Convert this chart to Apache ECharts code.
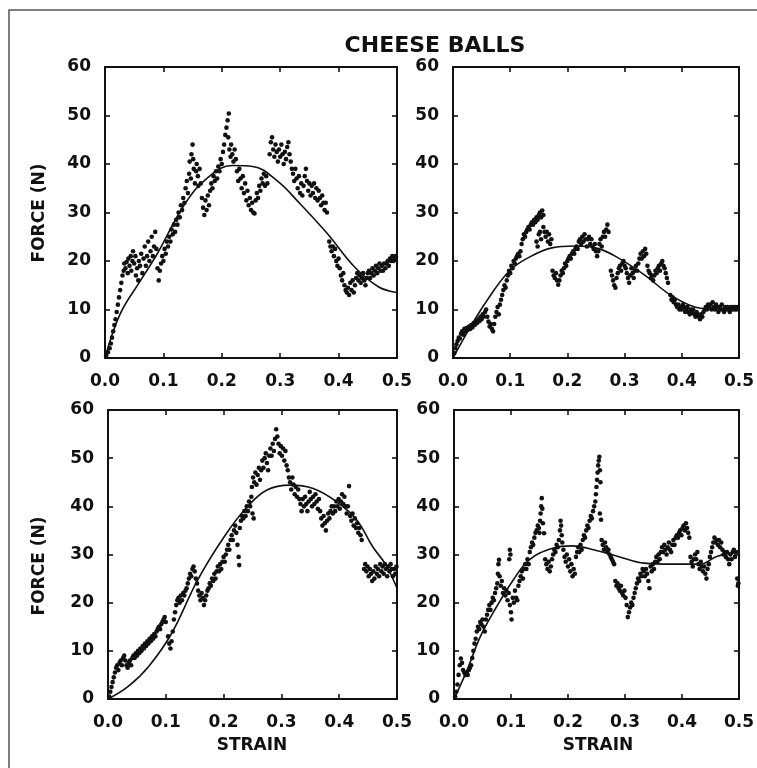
<!DOCTYPE html>
<html>
<head>
<meta charset="utf-8">
<script src="https://cdn.jsdelivr.net/npm/echarts@6/dist/echarts.min.js"></script>
<style>html,body{margin:0;padding:0;background:#fff;}#c{width:757px;height:768px;}</style>
</head>
<body>
<div id="c"></div>
<script>
// ---- data (strain, force N) ----
const titleText = 'CHEESE BALLS';
const xAxisName = 'STRAIN';
const yAxisName = 'FORCE (N)';
const strainTickLabels = ['0.0','0.1','0.2','0.3','0.4','0.5'];
const forceTickLabels = ['0','10','20','30','40','50','60'];

const tlPoints = [[0.002,0.5],[0.005,1.2],[0.008,2.0],[0.010,3.0],[0.012,4.2],[0.014,5.5],[0.016,6.8],[0.018,8.0],[0.020,9.5],[0.022,11.0],[0.024,12.5],[0.026,14.0],[0.028,15.5],[0.030,17.0],[0.032,18.0],[0.033,19.5],
[0.035,18.5],[0.037,19.8],[0.039,17.5],[0.040,20.5],[0.042,19.0],[0.044,21.0],[0.045,18.0],[0.047,20.0],[0.048,22.0],[0.050,19.5],[0.052,21.0],[0.053,17.0],[0.055,18.5],[0.057,16.0],[0.058,20.0],
[0.060,19.0],[0.062,21.5],[0.064,17.5],[0.066,20.5],[0.068,23.0],[0.070,19.0],[0.072,21.0],[0.074,24.0],[0.076,20.0],[0.078,22.0],[0.080,25.0],[0.082,21.0],[0.084,23.0],[0.086,26.0],[0.088,22.5],[0.090,18.5],[0.092,16.0],[0.094,18.0],
[0.096,19.5],[0.098,21.0],[0.100,20.0],[0.102,22.5],[0.104,21.5],[0.106,24.0],[0.108,23.0],[0.110,25.0],[0.112,24.0],[0.114,26.5],[0.116,25.5],[0.118,27.5],[0.120,26.0],[0.122,28.5],[0.124,27.5],[0.126,30.0],[0.128,29.0],[0.130,31.5],[0.132,30.5],[0.134,33.0],[0.136,32.0],
[0.138,35.0],[0.140,36.5],[0.142,34.0],[0.144,38.0],[0.145,40.5],[0.147,37.0],[0.148,42.0],[0.150,44.0],[0.151,41.0],[0.152,39.0],[0.154,36.0],[0.156,38.5],[0.157,40.0],[0.159,37.5],[0.160,35.5],[0.162,39.0],[0.164,36.0],
[0.166,33.0],[0.168,31.0],[0.170,29.5],[0.172,32.5],[0.174,30.5],[0.176,33.5],[0.178,31.5],
[0.180,34.5],[0.182,36.0],[0.184,35.0],[0.186,37.5],[0.188,36.5],[0.190,38.5],[0.192,37.0],[0.194,39.5],[0.196,38.5],[0.198,41.0],[0.200,40.0],[0.202,42.5],[0.204,44.0],
[0.206,46.0],[0.208,47.5],[0.210,49.0],[0.212,50.4],[0.211,45.5],[0.213,43.0],[0.215,41.5],[0.216,44.0],[0.218,42.0],[0.220,40.5],[0.222,43.0],[0.224,41.0],
[0.226,38.5],[0.228,36.5],[0.230,39.0],[0.232,37.0],[0.234,35.0],[0.236,37.5],[0.238,34.0],[0.240,36.0],[0.242,32.5],[0.244,34.5],[0.246,31.5],[0.248,33.0],[0.250,30.5],[0.252,32.0],[0.254,30.0],[0.256,29.8],
[0.258,32.5],[0.260,34.0],[0.262,33.0],[0.264,35.5],[0.266,34.5],[0.268,37.0],[0.270,36.0],[0.272,38.0],[0.274,35.5],[0.276,37.5],[0.278,36.0],
[0.282,42.0],[0.284,44.5],[0.286,45.5],[0.288,43.0],[0.290,41.5],[0.292,44.0],[0.294,42.5],[0.296,40.5],[0.298,43.0],[0.300,41.5],[0.302,44.0],[0.304,42.0],[0.306,40.0],[0.308,42.5],[0.310,41.0],[0.312,43.5],[0.314,44.5],[0.316,42.0],[0.318,40.5],[0.320,39.0],
[0.322,38.0],[0.324,36.5],[0.326,39.0],[0.328,37.0],[0.330,35.0],[0.332,37.5],[0.334,34.0],[0.336,36.0],[0.338,33.5],[0.340,35.5],[0.342,37.5],[0.344,39.0],[0.346,36.5],[0.348,34.5],[0.350,36.0],[0.352,33.5],[0.354,35.5],[0.356,34.0],[0.358,36.0],[0.360,33.0],[0.362,35.0],[0.364,32.5],[0.366,34.5],[0.368,33.0],[0.370,31.5],[0.372,33.5],[0.374,32.0],[0.376,30.5],[0.378,32.0],[0.380,30.0],
[0.384,24.0],[0.386,23.0],[0.388,22.0],[0.390,23.0],[0.392,21.0],[0.394,22.5],[0.396,20.0],[0.398,19.0],[0.400,20.5],[0.402,18.5],[0.404,17.0],[0.406,16.0],[0.408,17.5],
[0.410,15.0],[0.412,14.0],[0.414,13.5],[0.416,14.5],[0.418,13.0],[0.420,15.5],[0.422,14.0],[0.424,16.0],[0.426,13.5],[0.428,15.0],[0.430,16.5],[0.432,17.5],
[0.434,16.0],[0.436,17.0],[0.438,15.5],[0.440,16.5],[0.442,17.5],[0.444,16.0],[0.446,15.0],[0.448,16.5],[0.450,17.5],[0.452,18.0],[0.454,16.5],[0.456,17.5],[0.458,18.5],[0.460,17.0],[0.462,18.0],[0.464,19.0],[0.466,17.5],[0.468,18.5],[0.470,19.5],[0.472,18.0],[0.474,19.0],[0.476,18.0],[0.478,19.5],[0.480,18.5],[0.482,19.5],[0.484,20.0],[0.486,19.0],[0.488,20.5],[0.490,20.0],[0.492,21.0],[0.494,20.0],[0.496,20.5],[0.498,21.0]];
const tlFit = [[0,0],[0.026,9.1],[0.061,16.0],[0.090,21.6],[0.137,31.8],[0.177,37.3],[0.218,39.7],[0.253,39.5],[0.294,36.6],[0.334,31.8],[0.381,25.6],[0.427,18.8],[0.468,14.7],[0.5,13.5]];

const trPoints = [[0.002,1.0],[0.004,2.0],[0.006,2.8],[0.008,3.5],[0.010,4.2],[0.012,4.0],[0.014,5.0],[0.016,5.5],[0.018,4.8],[0.020,6.0],[0.022,5.5],[0.024,6.2],[0.026,5.8],[0.028,6.5],[0.030,6.0],[0.032,6.8],[0.034,6.3],[0.036,7.2],[0.038,6.8],[0.040,7.5],[0.042,7.2],[0.044,8.0],[0.046,7.6],[0.048,8.5],[0.050,8.0],[0.052,9.0],[0.054,8.5],[0.056,9.5],[0.058,10.0],
[0.060,8.5],[0.062,7.5],[0.064,6.5],[0.066,7.0],[0.068,6.0],[0.070,5.5],[0.072,7.0],[0.074,8.5],[0.076,9.5],[0.078,10.5],[0.080,9.0],
[0.082,11.0],[0.084,12.0],[0.086,13.0],[0.088,14.0],[0.090,15.0],[0.092,14.5],[0.094,16.0],[0.096,17.0],[0.098,18.0],[0.100,17.5],[0.102,19.0],[0.104,18.5],[0.106,20.0],[0.108,19.5],[0.110,20.5],
[0.112,21.0],[0.114,21.5],[0.116,21.0],[0.118,22.0],[0.120,23.5],[0.122,24.5],[0.124,25.5],[0.126,25.0],[0.128,26.0],[0.130,26.5],[0.132,27.0],[0.134,26.5],[0.136,27.5],[0.138,28.0],
[0.140,27.5],[0.142,28.5],[0.144,28.0],[0.146,29.0],[0.148,28.5],[0.150,29.5],[0.152,30.0],[0.154,29.0],[0.156,30.4],[0.158,29.5],[0.146,24.0],[0.148,23.0],[0.150,25.5],[0.152,26.0],[0.154,24.5],[0.158,27.0],[0.160,26.0],
[0.162,25.0],[0.164,26.0],[0.166,24.0],[0.168,25.5],[0.170,23.5],[0.172,24.5],
[0.174,18.0],[0.176,17.0],[0.178,16.5],[0.180,17.5],[0.182,16.0],[0.184,15.1],[0.186,16.0],
[0.188,17.0],[0.190,18.0],[0.192,17.5],[0.194,18.5],[0.196,19.5],[0.198,19.0],[0.200,20.0],[0.202,20.5],[0.204,21.0],[0.206,20.5],[0.208,21.5],[0.210,22.0],[0.212,21.5],[0.214,22.5],[0.216,23.0],[0.218,22.5],
[0.220,24.0],[0.222,24.5],[0.224,23.5],[0.226,25.0],[0.228,24.0],[0.230,25.5],[0.232,24.5],[0.234,23.0],[0.236,24.5],[0.238,25.0],[0.240,23.5],[0.242,24.5],[0.244,23.0],[0.246,22.5],[0.248,23.5],[0.250,22.0],[0.252,21.0],[0.254,22.0],
[0.256,23.5],[0.258,24.5],[0.260,23.0],[0.262,25.0],[0.264,26.0],[0.266,25.0],[0.268,26.5],[0.270,27.5],[0.272,26.0],
[0.276,18.0],[0.278,17.0],[0.280,16.0],[0.282,15.0],[0.284,14.5],[0.286,16.5],[0.288,17.5],
[0.290,18.5],[0.292,19.0],[0.294,18.0],[0.296,19.5],[0.298,20.0],[0.300,19.0],[0.302,18.5],[0.304,17.5],[0.306,16.5],[0.308,15.5],[0.310,17.0],[0.312,18.5],[0.314,17.5],[0.316,16.5],[0.318,18.0],[0.320,19.0],[0.322,18.0],[0.324,19.5],[0.326,20.5],[0.328,21.5],[0.330,20.5],[0.332,22.0],[0.334,21.0],[0.336,22.5],[0.338,21.5],
[0.340,19.0],[0.342,18.0],[0.344,17.5],[0.346,16.5],[0.348,17.0],[0.350,16.0],[0.352,17.0],[0.354,18.0],[0.356,17.5],[0.358,18.5],[0.360,19.0],[0.362,18.0],[0.364,19.5],[0.366,20.0],[0.368,19.0],[0.370,18.5],[0.372,17.5],[0.374,16.5],[0.376,15.5],
[0.380,13.0],[0.382,12.0],[0.384,12.5],[0.386,11.5],[0.388,12.0],[0.390,11.0],[0.392,10.5],[0.394,11.0],[0.396,10.0],[0.398,10.5],
[0.400,10.0],[0.402,11.0],[0.404,10.5],[0.406,9.5],[0.408,10.0],[0.410,10.5],[0.412,9.5],[0.414,9.0],[0.416,10.0],[0.418,9.5],[0.420,10.0],[0.422,9.0],[0.424,8.5],[0.426,9.5],[0.428,9.0],[0.430,8.5],[0.432,8.0],[0.434,9.0],[0.436,8.5],[0.438,9.5],
[0.440,10.0],[0.442,10.5],[0.444,10.0],[0.446,11.0],[0.448,10.5],[0.450,11.0],[0.452,10.0],[0.454,11.5],[0.456,10.5],[0.458,10.0],[0.460,11.0],[0.462,10.5],[0.464,9.5],[0.466,10.5],[0.468,10.0],[0.470,11.0],[0.472,10.0],[0.474,9.5],[0.476,10.5],[0.478,10.0],[0.480,10.5],[0.482,10.0],[0.484,9.5],[0.486,10.5],[0.488,10.0],[0.490,10.5],[0.492,10.0],[0.494,10.5],[0.496,10.0],[0.498,10.5]];
const trFit = [[0,0],[0.029,6.1],[0.058,11.6],[0.098,17.9],[0.132,20.7],[0.173,22.7],[0.213,23.1],[0.253,22.6],[0.288,20.7],[0.334,17.2],[0.380,13.0],[0.420,10.6],[0.449,10.1],[0.5,10.1]];

const blPoints = [[0.002,0.5],[0.004,1.5],[0.006,2.5],[0.008,3.5],[0.010,4.5],[0.012,5.5],[0.014,6.5],[0.016,7.0],[0.018,6.0],[0.020,7.5],[0.022,8.0],[0.024,7.0],[0.026,8.5],[0.028,9.0],[0.030,8.0],[0.032,7.0],[0.034,6.5],[0.036,7.5],[0.038,8.0],[0.040,7.0],[0.042,8.5],[0.044,9.0],[0.046,8.5],[0.048,9.5],[0.050,9.0],[0.052,10.0],[0.054,9.5],[0.056,10.5],[0.058,10.0],[0.060,11.0],[0.062,10.5],[0.064,11.5],[0.066,11.0],[0.068,12.0],[0.070,11.5],[0.072,12.5],[0.074,12.0],[0.076,13.0],[0.078,12.5],[0.080,13.5],[0.082,13.0],[0.084,14.0],[0.086,14.5],[0.088,15.0],[0.090,14.5],[0.092,15.5],[0.094,16.0],[0.096,16.5],[0.098,17.0],[0.100,16.0],
[0.104,13.0],[0.106,11.5],[0.108,10.5],[0.110,12.0],[0.112,14.0],
[0.114,16.5],[0.116,18.0],[0.118,19.5],[0.120,20.5],[0.122,21.0],[0.124,20.0],[0.126,21.5],[0.128,20.5],[0.130,22.0],[0.132,21.5],[0.134,22.5],[0.136,23.0],
[0.138,24.0],[0.140,25.0],[0.142,26.0],[0.144,25.5],[0.146,27.0],[0.148,27.5],[0.150,26.5],[0.152,25.0],[0.154,24.0],
[0.156,22.5],[0.158,21.5],[0.160,20.5],[0.162,22.0],[0.164,21.0],[0.166,19.5],[0.168,20.5],[0.170,21.5],[0.172,22.5],
[0.174,23.0],[0.176,24.0],[0.178,23.5],[0.180,25.0],[0.182,24.5],[0.184,26.0],[0.186,25.0],[0.188,26.5],[0.190,27.5],[0.192,26.5],[0.194,28.0],[0.196,27.0],[0.198,28.5],[0.200,29.5],[0.202,28.5],[0.204,30.0],[0.206,31.0],
[0.208,32.0],[0.210,31.0],[0.212,33.0],[0.214,34.0],[0.216,33.0],[0.218,35.0],[0.220,36.0],[0.222,34.5],[0.224,32.0],[0.226,29.5],[0.227,27.8],[0.228,35.5],[0.230,37.0],
[0.232,38.0],[0.234,37.5],[0.236,39.0],[0.238,38.0],[0.240,40.0],[0.242,39.0],[0.244,41.0],[0.246,40.0],[0.248,42.0],[0.250,38.5],[0.252,37.5],
[0.249,44.0],[0.251,46.0],[0.253,45.0],[0.255,47.0],[0.257,44.5],[0.259,46.5],[0.261,48.0],[0.263,45.5],
[0.265,47.5],[0.267,49.5],[0.269,48.0],[0.271,50.0],[0.273,51.0],[0.275,49.0],[0.277,47.5],[0.279,50.5],[0.281,52.0],[0.283,50.5],[0.285,53.0],[0.287,51.5],[0.289,54.0],[0.291,56.0],[0.293,54.5],
[0.295,53.0],[0.297,51.0],[0.299,52.5],[0.301,50.5],[0.303,52.0],[0.305,49.5],[0.307,51.5],[0.309,48.5],[0.311,47.5],[0.313,46.0],
[0.315,45.0],[0.317,43.5],[0.319,46.0],[0.321,44.5],[0.323,42.5],[0.325,44.0],[0.327,42.0],[0.329,43.5],[0.331,41.5],
[0.333,40.5],[0.335,39.0],[0.337,41.5],[0.339,40.0],[0.341,42.0],[0.343,40.5],[0.345,39.0],[0.347,41.0],[0.349,43.0],[0.351,41.5],[0.353,40.0],[0.355,42.0],[0.357,40.5],[0.359,42.5],[0.361,41.0],[0.363,39.5],[0.365,41.5],
[0.367,39.0],[0.369,37.5],[0.371,36.0],[0.373,38.0],[0.375,36.5],[0.377,35.0],[0.379,37.0],[0.381,38.5],[0.383,37.5],[0.385,39.0],[0.387,40.0],[0.389,38.5],[0.391,40.0],[0.393,39.0],[0.395,41.0],[0.397,40.0],[0.399,41.5],
[0.401,39.5],[0.403,41.0],[0.405,42.5],[0.407,40.5],[0.409,42.0],[0.411,40.0],[0.413,38.5],[0.415,40.0],[0.417,44.2],
[0.419,38.0],[0.421,37.0],[0.423,38.5],[0.425,36.0],[0.427,37.5],[0.429,35.5],[0.431,36.5],[0.433,34.5],[0.435,35.5],[0.437,34.0],[0.439,33.0],
[0.443,27.0],[0.445,28.0],[0.447,26.5],[0.449,27.5],[0.451,25.5],[0.453,27.0],[0.455,26.0],[0.457,24.5],[0.459,26.5],[0.461,25.0],[0.463,27.5],[0.465,26.0],[0.467,27.0],[0.469,25.5],[0.471,28.0],[0.473,26.5],[0.475,27.5],[0.477,26.0],[0.479,28.0],[0.481,27.0],[0.483,25.5],[0.485,27.5],[0.487,26.5],[0.489,28.0],[0.491,27.0],[0.493,25.5],[0.495,27.0],[0.497,26.0],[0.499,27.5]];
const blFit = [[0,0],[0.035,2.6],[0.070,6.7],[0.110,13.6],[0.155,24.7],[0.201,33.7],[0.241,39.9],[0.275,43.4],[0.315,44.4],[0.355,43.7],[0.395,41.0],[0.430,37.2],[0.458,31.6],[0.481,27.8],[0.5,23.0]];

const brPoints = [[0.002,0.5],[0.004,1.5],[0.006,3.0],[0.008,5.0],[0.010,7.0],[0.012,8.4],[0.014,7.5],[0.016,6.0],[0.018,5.5],[0.020,5.0],[0.022,5.5],[0.024,5.0],[0.026,6.0],[0.028,6.5],[0.030,7.0],
[0.032,8.5],[0.034,10.0],[0.036,11.5],[0.038,12.5],[0.040,14.0],[0.042,15.0],[0.044,14.5],[0.046,16.0],[0.048,15.5],[0.050,16.5],[0.052,15.0],[0.054,14.0],[0.056,16.5],[0.058,17.5],
[0.060,18.5],[0.062,19.5],[0.064,18.5],[0.066,20.0],[0.068,21.0],[0.070,20.5],[0.072,22.0],[0.074,23.0],
[0.076,24.0],[0.077,26.0],[0.078,28.0],[0.079,28.9],[0.080,25.5],[0.082,23.5],[0.084,24.5],[0.086,22.0],
[0.088,23.0],[0.090,21.5],[0.092,22.5],[0.094,20.5],[0.096,22.0],[0.098,19.5],[0.100,18.0],[0.101,16.5],[0.103,21.0],[0.105,20.0],[0.107,22.5],[0.109,21.0],[0.111,20.5],[0.113,23.5],[0.097,29.0],[0.098,31.0],[0.099,30.0],
[0.115,24.5],[0.117,25.5],[0.119,26.5],[0.121,25.0],[0.123,27.0],[0.125,28.0],[0.127,27.0],[0.129,29.0],[0.131,28.0],
[0.133,30.5],[0.135,31.5],[0.137,32.5],[0.139,32.0],[0.141,33.5],[0.143,34.5],[0.145,35.0],[0.147,36.0],[0.149,35.5],[0.150,34.5],
[0.151,37.0],[0.152,38.5],[0.153,40.0],[0.154,41.7],[0.155,39.5],[0.156,36.5],[0.158,34.4],
[0.160,29.0],[0.162,28.0],[0.164,27.0],[0.166,28.5],[0.168,26.5],[0.170,27.5],[0.172,29.0],
[0.174,30.0],[0.176,31.0],[0.178,30.5],[0.180,32.0],[0.182,31.5],[0.184,33.0],[0.186,35.0],[0.187,37.0],[0.188,36.0],[0.189,34.0],[0.190,32.5],
[0.192,31.0],[0.194,29.5],[0.196,28.5],[0.198,30.0],[0.200,27.5],[0.202,29.0],[0.204,26.5],[0.206,28.0],[0.208,25.5],[0.210,27.0],[0.212,26.0],
[0.214,29.5],[0.216,30.5],[0.218,31.5],[0.220,30.5],[0.222,32.0],[0.224,31.0],
[0.226,33.0],[0.228,34.0],[0.230,33.5],[0.232,35.0],[0.234,36.0],[0.236,35.5],[0.238,37.0],[0.240,38.0],[0.242,37.5],[0.244,39.0],[0.246,40.0],[0.248,41.0],
[0.249,42.5],[0.250,44.0],[0.251,45.5],[0.252,47.0],[0.253,48.5],[0.254,49.5],[0.255,50.3],[0.256,47.5],[0.257,45.0],
[0.256,38.5],[0.258,37.2],
[0.259,33.0],[0.261,32.0],[0.263,31.0],[0.265,32.5],[0.267,31.5],[0.269,30.5],[0.271,31.0],[0.273,30.0],[0.275,29.5],
[0.277,29.0],[0.279,28.5],[0.281,28.0],
[0.283,24.5],[0.285,23.5],[0.287,24.0],[0.289,23.0],[0.291,22.5],[0.293,23.5],[0.295,22.0],[0.297,21.5],[0.299,22.5],[0.301,21.0],
[0.303,19.5],[0.305,17.0],[0.307,18.0],[0.309,19.0],[0.311,20.0],[0.313,19.5],[0.315,21.0],
[0.317,22.0],[0.319,23.0],[0.321,24.0],[0.323,25.0],[0.325,24.5],[0.327,26.0],[0.329,25.5],[0.331,27.0],[0.333,26.5],[0.335,25.5],[0.337,27.0],[0.339,26.0],[0.341,24.5],[0.343,23.0],[0.345,27.5],
[0.347,26.5],[0.349,28.0],[0.351,27.0],[0.353,28.5],[0.355,29.5],[0.357,28.5],[0.359,30.0],[0.361,29.0],
[0.363,30.5],[0.365,31.5],[0.367,30.5],[0.369,32.0],[0.371,31.0],[0.373,30.0],[0.375,31.5],[0.377,32.5],[0.379,31.0],[0.381,30.5],[0.383,32.0],[0.385,33.0],[0.387,32.0],[0.389,33.5],[0.391,34.0],
[0.393,33.5],[0.395,34.5],[0.397,35.0],[0.399,34.0],[0.401,35.5],[0.403,36.0],[0.405,35.0],[0.407,36.5],[0.409,35.5],[0.411,34.5],[0.413,33.5],
[0.415,29.5],[0.417,28.5],[0.419,27.5],[0.421,29.0],[0.423,30.0],[0.425,29.0],[0.427,30.5],[0.429,28.0],[0.431,27.0],
[0.433,28.5],[0.435,27.5],[0.437,26.5],[0.439,27.5],[0.441,26.0],[0.443,25.0],[0.445,27.0],[0.447,28.0],
[0.449,29.5],[0.451,30.5],[0.453,31.5],[0.455,32.5],[0.457,33.5],[0.459,32.5],[0.461,33.0],[0.463,32.0],[0.465,33.0],[0.467,31.5],[0.469,32.5],[0.471,31.0],
[0.473,30.0],[0.475,30.5],[0.477,29.5],[0.479,30.5],[0.481,29.0],[0.483,28.0],[0.485,30.0],[0.487,29.0],[0.489,30.5],[0.491,31.0],[0.493,29.5],[0.495,30.5],[0.497,25.0],[0.498,23.5],[0.499,24.0]];
const brFit = [[0,0],[0.023,6.0],[0.046,12.9],[0.075,19.2],[0.104,24.7],[0.132,28.9],[0.173,31.3],[0.207,31.8],[0.248,30.9],[0.288,29.6],[0.334,28.2],[0.380,28.0],[0.432,28.0],[0.461,29.6],[0.5,30.6]];

// ---- layout ----
const panels = [
  {pts: tlPoints, fit: tlFit, grid: {left: 105, top: 67, width: 292, height: 291}},
  {pts: trPoints, fit: trFit, grid: {left: 453, top: 67, width: 290, height: 291}},
  {pts: blPoints, fit: blFit, grid: {left: 108, top: 410, width: 289, height: 289}},
  {pts: brPoints, fit: brFit, grid: {left: 454, top: 410, width: 289, height: 289}}
];
const FONT = '"DejaVu Sans", sans-serif';
const INK = '#111';

const grid = [], xAxis = [], yAxis = [], series = [];
panels.forEach((p, i) => {
  grid.push(Object.assign({show: false}, p.grid));
  const lineStyle = {color: INK, width: 2};
  const tick = {show: true, inside: true, length: 5, lineStyle: {color: INK, width: 1.6}};
  const xBase = {type: 'value', gridIndex: i, min: 0, max: 0.5, interval: 0.1, splitLine: {show: false},
                 axisLine: {show: true, onZero: false, lineStyle}, axisTick: tick};
  const yBase = {type: 'value', gridIndex: i, min: 0, max: 60, interval: 10, splitLine: {show: false},
                 axisLine: {show: true, onZero: false, lineStyle}, axisTick: tick};
  xAxis.push(Object.assign({}, xBase, {position: 'bottom',
    axisLabel: {show: true, margin: 15, color: INK, fontFamily: FONT, fontWeight: 'bold', fontSize: 17,
      formatter: v => strainTickLabels[Math.round(v * 10)]}}));
  xAxis.push(Object.assign({}, xBase, {position: 'top', axisLabel: {show: false}}));
  yAxis.push(Object.assign({}, yBase, {position: 'left',
    axisLabel: {show: true, margin: 14, color: INK, fontFamily: FONT, fontWeight: 'bold', fontSize: 17,
      formatter: v => forceTickLabels[Math.round(v / 10)]}}));
  yAxis.push(Object.assign({}, yBase, {position: 'right', axisLabel: {show: false}}));
  series.push({type: 'scatter', xAxisIndex: 2 * i, yAxisIndex: 2 * i, data: p.pts,
    symbol: 'circle', symbolSize: 4.6, itemStyle: {color: INK, opacity: 1}, silent: true, animation: false});
  series.push({type: 'line', xAxisIndex: 2 * i, yAxisIndex: 2 * i, data: p.fit, smooth: 0.4,
    showSymbol: false, symbol: 'none', lineStyle: {color: INK, width: 1.6}, silent: true, animation: false});
});

const labelStyle = {fill: INK, fontFamily: FONT, fontWeight: 'bold', fontSize: 17};
const option = {
  backgroundColor: '#fff',
  animation: false,
  title: {text: titleText, left: 430, top: 30, textAlign: 'center',
    textStyle: {fontFamily: FONT, fontWeight: 'bold', fontSize: 22, color: INK}},
  grid, xAxis, yAxis, series,
  graphic: [
    {type: 'rect', shape: {x: 9, y: 10, width: 780, height: 800}, style: {fill: 'none', stroke: '#555', lineWidth: 1.5}, silent: true},
    {type: 'text', x: 40, y: 213, rotation: Math.PI / 2, style: Object.assign({text: yAxisName, textAlign: 'center', textVerticalAlign: 'middle'}, labelStyle)},
    {type: 'text', x: 40, y: 566, rotation: Math.PI / 2, style: Object.assign({text: yAxisName, textAlign: 'center', textVerticalAlign: 'middle'}, labelStyle)},
    {type: 'text', x: 252, y: 746, style: Object.assign({text: xAxisName, textAlign: 'center', textVerticalAlign: 'middle'}, labelStyle)},
    {type: 'text', x: 598, y: 746, style: Object.assign({text: xAxisName, textAlign: 'center', textVerticalAlign: 'middle'}, labelStyle)}
  ]
};
const chart = echarts.init(document.getElementById('c'), null, {renderer: 'canvas'});
chart.setOption(option);
</script>
</body>
</html>
